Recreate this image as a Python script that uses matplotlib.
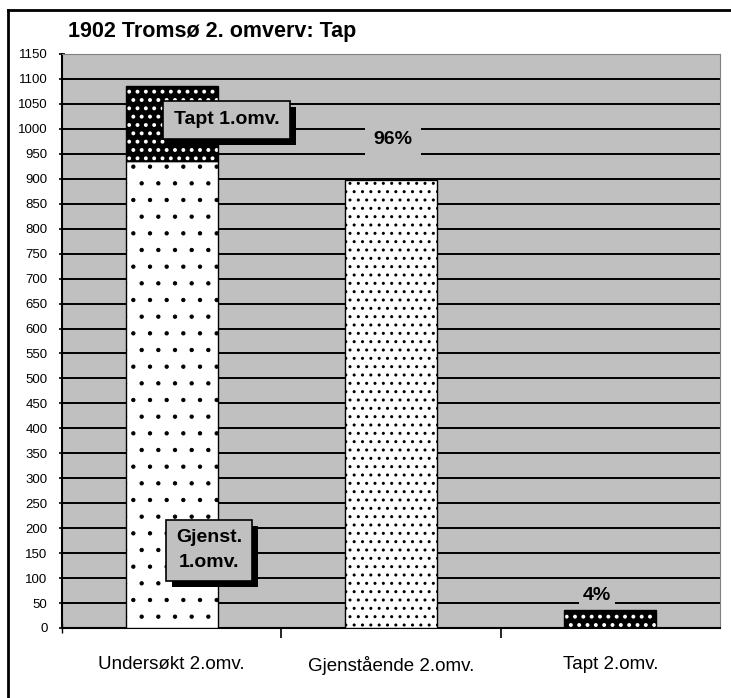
import matplotlib.pyplot as plt
import matplotlib.patheffects as pe
from matplotlib.lines import Line2D

plt.rcParams['font.family'] = ['Liberation Sans', 'DejaVu Sans']

categories = ["Undersøkt 2.omv.", "Gjenstående 2.omv.", "Tapt 2.omv."]
gjenst_1 = [935, 0, 0]
tapt_1 = [150, 0, 0]
gjenst_2 = [0, 898, 0]
tapt_2 = [0, 0, 37]
pct_labels = ["96%", "4%"]

fig = plt.figure(figsize=(7.31, 6.98), dpi=100)
ax = fig.add_axes([62 / 731, 70 / 698, 658 / 731, 574 / 698])
ax.set_facecolor('#c0c0c0')

x = [0, 1, 2]
w = 0.42

# horizontal grid lines
for v in range(50, 1151, 50):
    ax.axhline(v, color='black', lw=1.4, zorder=1)

# white bars with black dots
plt.rcParams['hatch.linewidth'] = 0.7
ax.bar(x[0], gjenst_1[0], w, color='white', edgecolor='black', hatch='.', lw=1, zorder=3)
plt.rcParams['hatch.linewidth'] = 1.0
ax.bar(x[1], gjenst_2[1], w, color='white', edgecolor='black', hatch='..', lw=1, zorder=3)

# black bars with white dots
plt.rcParams['hatch.linewidth'] = 1.6
ax.bar(x[0], tapt_1[0], w, bottom=gjenst_1[0], color='black', edgecolor='white', hatch='..', lw=0, zorder=3)
ax.bar(x[0], tapt_1[0], w, bottom=gjenst_1[0], fill=False, edgecolor='black', lw=1, zorder=4)
ax.bar(x[2], tapt_2[2], w, color='black', edgecolor='white', hatch='..', lw=0, zorder=3)
ax.bar(x[2], tapt_2[2], w, fill=False, edgecolor='black', lw=1, zorder=4)

ax.set_xlim(-0.5, 2.5)
ax.set_ylim(0, 1150)
ax.set_yticks(range(0, 1151, 50))
ax.set_xticks([0.5, 1.5], minor=False)
ax.set_xticks(x, minor=True)
ax.set_xticklabels(['', ''])
ax.set_xticklabels(categories, minor=True, fontsize=13.5)
ax.tick_params(axis='x', which='minor', length=0, pad=20)
ax.tick_params(axis='x', which='major', length=7, width=1.2, direction='out')
ax.tick_params(axis='y', length=5, width=1.2, labelsize=9.5, direction='inout', pad=8)
for s in ['top', 'right']:
    ax.spines[s].set_color('#808080')
for s in ['left', 'bottom']:
    ax.spines[s].set_linewidth(1.5)
ax.plot([-0.5], [0], marker='|', color='black', markersize=7, clip_on=False)

shadow = [pe.SimplePatchShadow(offset=(4.5, -4.5), shadow_rgbFace='black', alpha=1), pe.Normal()]

def shadow_label(xp, yp, text, pad):
    t = ax.text(xp, yp, text, ha='center', va='center', fontsize=14, fontweight='bold',
                zorder=6, linespacing=1.6,
                bbox=dict(boxstyle='square,pad=' + str(pad), fc='#c0c0c0', ec='black', lw=1.2))
    t.get_bbox_patch().set_path_effects(shadow)

shadow_label(0.25, 1018, "Tapt 1.omv.", 0.55)
shadow_label(0.17, 156, "Gjenst.\n1.omv.", 0.5)

ax.text(1.01, 978, pct_labels[0], ha='center', va='center', fontsize=14, fontweight='bold',
        zorder=5, bbox=dict(boxstyle='square,pad=0.45', fc='#c0c0c0', ec='none'))
ax.text(1.94, 66, pct_labels[1], ha='center', va='center', fontsize=14, fontweight='bold',
        zorder=5, bbox=dict(boxstyle='square,pad=0.2', fc='#c0c0c0', ec='none'))

fig.text(68 / 731, 1 - 32 / 698, "1902 Tromsø 2. omverv: Tap", fontsize=15.5,
         fontweight='bold', ha='left', va='center')

# outer chart border (top and left visible)
fig.add_artist(Line2D([8 / 731, 1.0], [1 - 10 / 698] * 2, color='black', lw=2))
fig.add_artist(Line2D([8 / 731] * 2, [0, 1 - 10 / 698], color='black', lw=2))

fig.savefig('out.png', dpi=100)
